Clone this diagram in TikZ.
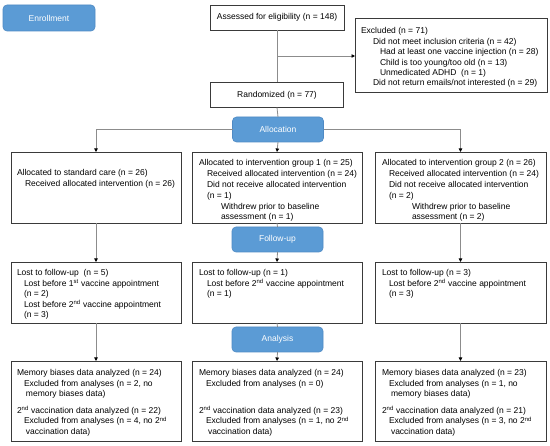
\documentclass[tikz,border=0pt]{standalone}
\usepackage{fontspec}
\setmainfont{Liberation Sans}
\usetikzlibrary{arrows.meta}
\definecolor{bluefill}{HTML}{5B9BD5}
\definecolor{bluedraw}{HTML}{4F8AC4}
\definecolor{boxline}{HTML}{3A3A3A}
\definecolor{connline}{HTML}{8C8C8C}
\newcommand{\dfont}{\fontsize{8.5}{10.4}\selectfont}
\newcommand{\ind}[1]{\hspace*{#1pt}}
\newcommand{\sts}{\textsuperscript{st}}
\newcommand{\nds}{\textsuperscript{nd}}
\begin{document}
\begin{tikzpicture}[x=1pt,y=-1pt,
  box/.style={draw=boxline, line width=0.8pt, inner sep=0pt, outer sep=0pt, fill=white},
  phase/.style={draw=bluedraw, line width=0.6pt, fill=bluefill, rounded corners=4pt, text=white, font=\dfont, minimum width=91pt, minimum height=25pt, inner sep=0pt, outer sep=0pt},
  txt/.style={anchor=base west, inner sep=0pt, outer sep=0pt, font=\dfont},
  conn/.style={draw=connline, line width=0.8pt},
  arr/.style={conn, -{Triangle[length=3.5pt,width=3.5pt,fill=black,color=black]}}]
\renewcommand{\arraystretch}{1}
\useasboundingbox (0,0) rectangle (550,446);
\fill[white] (0,0) rectangle (550,446);

% phase labels
\node[phase, minimum width=92pt, minimum height=26pt] (enrol) at (49,18) {Enrollment};
\node[phase] (alloc) at (278,129.5) {Allocation};
\node[phase] (fu) at (277.5,239.5) {Follow-up};
\node[phase] (an) at (277.5,339.5) {Analysis};

% enrollment boxes
\node[box, minimum width=134pt, minimum height=25pt, font=\dfont] (assess) at (277,17.5) {Assessed for eligibility (n = 148)};
\node[box, minimum width=133pt, minimum height=25pt, font=\dfont] (rand) at (277,95) {Randomized (n = 77)};
\node[box, minimum width=192pt, minimum height=74pt] (excl) at (451,55) {};
\node[txt] (exclt) at (361,34) {\begin{tabular}[t]{@{}l@{}}
Excluded (n = 71)\\
\ind{12}Did not meet inclusion criteria (n = 42)\\
\ind{19}Had at least one vaccine injection (n = 28)\\
\ind{19}Child is too young/too old (n = 13)\\
\ind{19}Unmedicated ADHD\ \ (n = 1)\\
\ind{12}Did not return emails/not interested (n = 29)
\end{tabular}};

% allocation row
\node[box, minimum width=170pt, minimum height=71pt] (g0) at (96,187.5) {};
\node[box, minimum width=170pt, minimum height=71pt] (g1) at (277,187.5) {};
\node[box, minimum width=171pt, minimum height=71pt] (g2) at (460.5,187.5) {};
\node[txt] (g0t) at (17,176) {\begin{tabular}[t]{@{}l@{}}
Allocated to standard care (n = 26)\\
\ind{8}Received allocated intervention (n = 26)
\end{tabular}};
\node[txt] (g1t) at (199,166) {\begin{tabular}[t]{@{}l@{}}
Allocated to intervention group 1 (n = 25)\\[0.4pt]
\ind{8}Received allocated intervention (n = 24)\\[0.4pt]
\ind{8}Did not receive allocated intervention\\[0.4pt]
\ind{8}(n = 1)\\[0.4pt]
\ind{22}Withdrew prior to baseline\\[0.4pt]
\ind{22}assessment (n = 1)
\end{tabular}};
\node[txt] (g2t) at (382,166) {\begin{tabular}[t]{@{}l@{}}
Allocated to intervention group 2 (n = 26)\\[0.4pt]
\ind{7}Received allocated intervention (n = 24)\\[0.4pt]
\ind{7}Did not receive allocated intervention\\[0.4pt]
\ind{7}(n = 2)\\[0.4pt]
\ind{30}Withdrew prior to baseline\\[0.4pt]
\ind{30}assessment (n = 2)
\end{tabular}};

% follow-up row
\node[box, minimum width=170pt, minimum height=61pt] (l0) at (96,292.5) {};
\node[box, minimum width=170pt, minimum height=61pt] (l1) at (277,292.5) {};
\node[box, minimum width=171pt, minimum height=61pt] (l2) at (460.5,292.5) {};
\node[txt] (l0t) at (17,276) {\begin{tabular}[t]{@{}l@{}}
Lost to follow-up\ \ (n = 5)\\
\ind{7}Lost before 1\sts{} vaccine appointment\\
\ind{7}(n = 2)\\
\ind{7}Lost before 2\nds{} vaccine appointment\\
\ind{7}(n = 3)
\end{tabular}};
\node[txt] (l1t) at (199,276) {\begin{tabular}[t]{@{}l@{}}
Lost to follow-up (n = 1)\\
\ind{8}Lost before 2\nds{} vaccine appointment\\
\ind{8}(n = 1)
\end{tabular}};
\node[txt] (l2t) at (382,276) {\begin{tabular}[t]{@{}l@{}}
Lost to follow-up (n = 3)\\
\ind{7}Lost before 2\nds{} vaccine appointment\\
\ind{7}(n = 3)
\end{tabular}};

% analysis row
\node[box, minimum width=170pt, minimum height=80pt] (a0) at (96,401) {};
\node[box, minimum width=170pt, minimum height=80pt] (a1) at (277,401) {};
\node[box, minimum width=171pt, minimum height=80pt] (a2) at (460.5,401) {};
\node[txt] (a0t) at (17,376) {\begin{tabular}[t]{@{}l@{}}
Memory biases data analyzed (n = 24)\\
\ind{7}Excluded from analyses (n = 2, no\\
\ind{9}memory biases data)\\[6.4pt]
2\nds{} vaccination data analyzed (n = 22)\\
\ind{7}Excluded from analyses (n = 4, no 2\nds\\
\ind{9}vaccination data)
\end{tabular}};
\node[txt] (a1t) at (199,376) {\begin{tabular}[t]{@{}l@{}}
Memory biases data analyzed (n = 24)\\
\ind{7}Excluded from analyses (n = 0)\\
\\[6.4pt]
2\nds{} vaccination data analyzed (n = 23)\\
\ind{7}Excluded from analyses (n = 1, no 2\nds\\
\ind{9}vaccination data)
\end{tabular}};
\node[txt] (a2t) at (382,376) {\begin{tabular}[t]{@{}l@{}}
Memory biases data analyzed (n = 23)\\
\ind{7}Excluded from analyses (n = 1, no\\
\ind{9}memory biases data)\\[6.4pt]
2\nds{} vaccination data analyzed (n = 21)\\
\ind{7}Excluded from analyses (n = 3, no 2\nds\\
\ind{9}vaccination data)
\end{tabular}};

% connectors
\coordinate (exbr) at (277,56);
\begin{scope}[on background layer/.style={}]
\draw[conn] (assess.south) -- (rand.north);
\draw[arr] (exbr) -- (exbr -| excl.west);
\draw[conn] (rand.south) -- (alloc.north);
\draw[arr] (alloc.south) -- (g1.north);
\draw[arr] (alloc.west) -| (g0.north);
\draw[arr] (alloc.east) -| (g2.north);
\draw[arr] (g0.south) -- (l0.north);
\draw[arr] (g2.south) -- (l2.north);
\draw[conn] (g1.south) -- (fu.north);
\draw[arr] (fu.south) -- (l1.north);
\draw[arr] (l0.south) -- (a0.north);
\draw[arr] (l2.south) -- (a2.north);
\draw[conn] (l1.south) -- (an.north);
\draw[arr] (an.south) -- (a1.north);
\end{scope}
\end{tikzpicture}
\end{document}
